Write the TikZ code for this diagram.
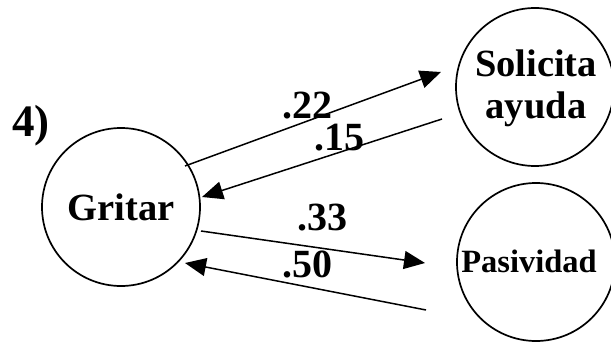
\documentclass[tikz,border=0pt]{standalone}
\usepackage{fontspec}
\setmainfont{Liberation Serif}
\usetikzlibrary{arrows.meta}
\begin{document}
\begin{tikzpicture}[x=1pt,y=-1pt,
  state/.style={draw,circle,line width=1.7pt,inner sep=0pt,minimum size=158pt},
  statetext/.style={anchor=base,inner sep=0pt,font=\bfseries\fontsize{38.5}{41}\selectfont},
  prob/.style={anchor=base,inner sep=0pt,font=\bfseries\fontsize{40}{40}\selectfont},
  link/.style={line width=1.5pt,-{Triangle[length=21pt,width=18pt]}}]
\useasboundingbox (0,0) rectangle (611,345);
% states
\node[state] (gritar) at (121,207) {};
\node[statetext] (tg) at (121,220) {Gritar};
\node[state] (solicita) at (535,87) {};
\node[statetext] (ts1) at (536,77) {Solicita};
\node[statetext] (ts2) at (536,118) {ayuda};
\node[state] (pasividad) at (536,262) {};
\node[statetext,font=\bfseries\fontsize{32.5}{36}\selectfont] (tp) at (529,272) {Pasividad};
% title
\node[anchor=base west,inner sep=0pt,font=\bfseries\fontsize{45}{45}\selectfont] (title) at (12,136) {4)};
% transition end points
\coordinate (g1) at (185,166);
\coordinate (s1) at (441,72);
\coordinate (s2) at (442,119);
\coordinate (g2) at (202,197);
\coordinate (g3) at (201,231);
\coordinate (p3) at (425,263);
\coordinate (p4) at (426,310);
\coordinate (g4) at (185,263);
% transitions
\draw[link] (g1) -- (s1);
\draw[link] (s2) -- (g2);
\draw[link] (g3) -- (p3);
\draw[link] (p4) -- (g4);
% probabilities
\node[prob] (l22) at (307,118) {.22};
\node[prob] (l15) at (339,150) {.15};
\node[prob] (l33) at (322,230) {.33};
\node[prob] (l50) at (307,277) {.50};
\end{tikzpicture}
\end{document}
